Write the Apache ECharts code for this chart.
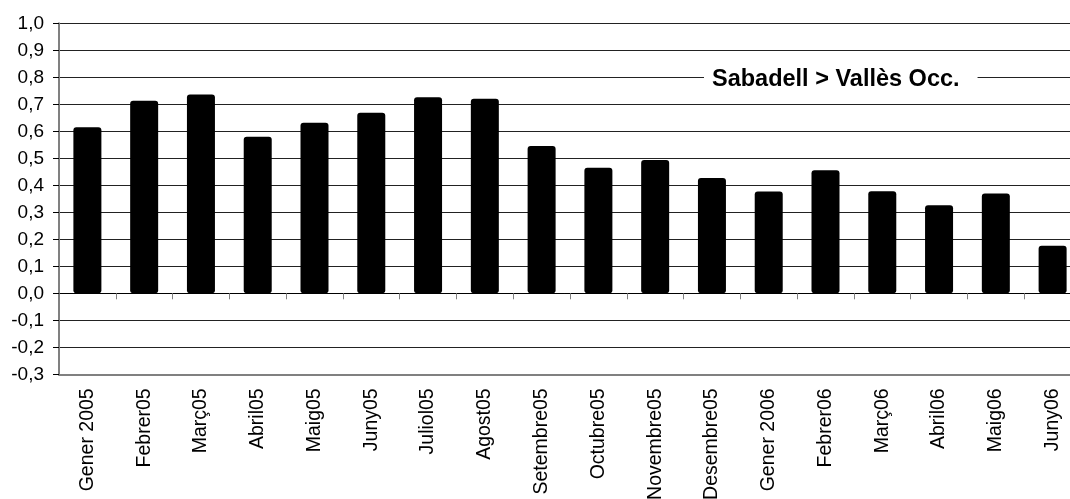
<!DOCTYPE html>
<html>
<head>
<meta charset="utf-8">
<script src="https://cdn.jsdelivr.net/npm/echarts@6/dist/echarts.min.js"></script>
<style>
html,body{margin:0;padding:0;background:#fff;}
#c{width:1070px;height:499px;}
</style>
</head>
<body>
<div id="c"></div>
<script>
const categories = ['Gener 2005','Febrer05','Març05','Abril05','Maig05','Juny05','Juliol05','Agost05','Setembre05','Octubre05','Novembre05','Desembre05','Gener 2006','Febrer06','Març06','Abril06','Maig06','Juny06'];
const values = [0.615,0.713,0.736,0.580,0.632,0.669,0.726,0.721,0.546,0.465,0.494,0.427,0.377,0.456,0.378,0.326,0.370,0.176];
const seriesName = 'Sabadell > Vallès Occ.';
const yMin = -0.3, yMax = 1.0, yStep = 0.1;

const chart = echarts.init(document.getElementById('c'), null, {renderer:'canvas'});
const font = 'Arial, "Liberation Sans", sans-serif';
chart.setOption({
  animation:false,
  backgroundColor:'#fff',
  title:{
    text:seriesName,
    left:704, top:65,
    backgroundColor:'#fff',
    padding:[3,18,3,8],
    textStyle:{fontFamily:font,fontWeight:'bold',fontSize:23.5,color:'#000'}
  },
  grid:{left:59,right:-11,top:23.3,bottom:124.7,containLabel:false,outerBoundsMode:'none'},
  xAxis:[{
    type:'category',
    data:categories,
    position:'bottom',
    axisLine:{onZero:false,lineStyle:{color:'#808080',width:2}},
    axisTick:{show:false},
    axisLabel:{rotate:90,margin:14,fontFamily:font,fontSize:19.5,color:'#000',interval:0},
    splitLine:{show:false}
  },{
    type:'category',
    data:categories,
    position:'bottom',
    axisLine:{onZero:true,lineStyle:{color:'#000',width:1}},
    axisTick:{show:true,interval:0,length:6,inside:false,lineStyle:{color:'#808080',width:1}},
    axisLabel:{show:false,interval:0},
    splitLine:{show:false}
  }],
  yAxis:{
    type:'value',
    min:yMin,max:yMax,interval:yStep,
    axisLine:{show:true,lineStyle:{color:'#808080',width:2}},
    axisTick:{show:true,length:6,lineStyle:{color:'#000'}},
    axisLabel:{margin:15,fontFamily:font,fontSize:19,color:'#000',
      formatter:v=>v.toFixed(1).replace('.',',')},
    splitLine:{show:true,lineStyle:{color:'#222',width:1}}
  },
  series:[{
    name:seriesName,
    type:'bar',
    data:values,
    barWidth:28,
    itemStyle:{color:'#000',borderRadius:3}
  }]
});
</script>
</body>
</html>
